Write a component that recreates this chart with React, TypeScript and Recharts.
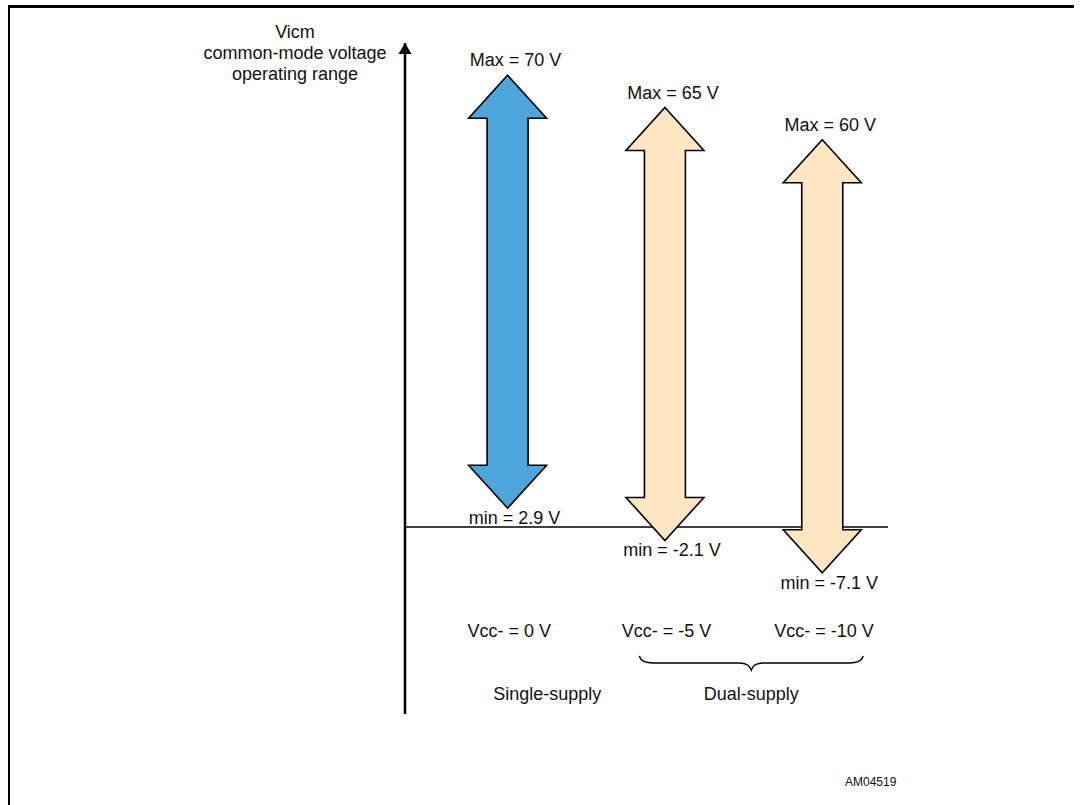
import { ComposedChart, Bar, XAxis, YAxis, CartesianGrid } from 'recharts';

// common-mode voltage range per supply configuration
const vccMinus = [0, -5, -10];
const maxVolts = [70, 65, 60];
const minVolts = [2.9, -2.1, -7.1];
const groundLevel = [0];

const groupNames = ['Single-supply', 'Dual-supply'];
const groupFrom = [1, 2];
const groupTo = [1, 3];

const Y_DOMAIN = [-29, 75];

const data = vccMinus.map((v, i) => ({
  pos: i + 1,
  vcc: v,
  max: maxVolts[i],
  min: minVolts[i],
  range: [minVolts[i], maxVolts[i]],
}));

const FONT = '"Liberation Sans", Arial, Helvetica, sans-serif';
const FILLS = ['#4ca6dc', '#fde6c1', '#fde6c1'];
const PLOT_BOTTOM = 714;

const Arrow = (props: any) => {
  const { x, y, width, height, payload } = props;
  const top = Math.min(y, y + height);
  const h = Math.abs(height);
  const bottom = top + h;
  const cx = x + width / 2;
  const head = 43;
  const half = 20.5;
  const pts = [
    [cx, top],
    [x + width, top + head],
    [cx + half, top + head],
    [cx + half, bottom - head],
    [x + width, bottom - head],
    [cx, bottom],
    [x, bottom - head],
    [cx - half, bottom - head],
    [cx - half, top + head],
    [x, top + head],
  ].map(p => p.join(',')).join(' ');
  return (
    <g>
      <polygon points={pts} fill={FILLS[payload.pos - 1]} stroke="#000" strokeWidth={1.6} />
      <text x={cx + 8} y={top - 9} textAnchor="middle" fontFamily={FONT} fontSize={18} fill="#111">
        {`Max = ${payload.max} V`}
      </text>
      <text x={cx + 7} y={bottom + 16} textAnchor="middle" fontFamily={FONT} fontSize={18} fill="#111">
        {`min = ${payload.min} V`}
      </text>
    </g>
  );
};

const AxisTitle = (props: any) => {
  const { viewBox } = props;
  const ax = viewBox.x + viewBox.width;
  const top = viewBox.y;
  const tx = ax - 110;
  return (
    <g>
      <polygon points={`${ax},${top} ${ax - 6.5},${top + 11} ${ax + 6.5},${top + 11}`} fill="#000" />
      <text textAnchor="middle" fontFamily={FONT} fontSize={18} fill="#111">
        <tspan x={tx} y={top - 5}>Vicm</tspan>
        <tspan x={tx} y={top + 16}>common-mode voltage</tspan>
        <tspan x={tx} y={top + 37}>operating range</tspan>
      </text>
    </g>
  );
};

const SupplyTick = (props: any) => {
  const { x, payload } = props;
  const v = vccMinus[payload.value - 1];
  return (
    <text x={x + 2} y={PLOT_BOTTOM - 77} textAnchor="middle" fontFamily={FONT} fontSize={18} fill="#111">
      {`Vcc- = ${v} V`}
    </text>
  );
};

const GroupTick = (props: any) => {
  const { x, payload } = props;
  const i = groupFrom.findIndex((f, k) => (f + groupTo[k]) / 2 === payload.value);
  if (i < 0) return null;
  const multi = groupTo[i] > groupFrom[i];
  const cx = multi ? x + 8 : x + 40;
  const hw = 112;
  const b = PLOT_BOTTOM - 58;
  return (
    <g>
      {multi && (
        <path
          d={`M${cx - hw},${b} Q${cx - hw + 2},${b + 7} ${cx - hw + 14},${b + 7} L${cx - 12},${b + 7} Q${cx - 2},${b + 7} ${cx},${b + 14} Q${cx + 2},${b + 7} ${cx + 12},${b + 7} L${cx + hw - 14},${b + 7} Q${cx + hw - 2},${b + 7} ${cx + hw},${b}`}
          fill="none"
          stroke="#000"
          strokeWidth={1.4}
        />
      )}
      <text x={cx} y={PLOT_BOTTOM - 14} textAnchor="middle" fontFamily={FONT} fontSize={18} fill="#111">
        {groupNames[i]}
      </text>
    </g>
  );
};

// grid line for 0 V; falls back to the plot offset if the axis scale isn't handed over
const groundCoords = (p: any) => {
  const sc = p?.yAxis?.scale;
  if (typeof sc === 'function') return groundLevel.map(v => sc(v));
  const off = p?.offset;
  if (!off) return [];
  return groundLevel.map(v => off.top + (off.height * (Y_DOMAIN[1] - v)) / (Y_DOMAIN[1] - Y_DOMAIN[0]));
};

export default function App() {
  return (
    <div style={{ position: 'absolute', left: 0, top: 0, width: 1084, height: 805, background: '#fff' }}>
      <div style={{ position: 'absolute', left: 8, top: 5, width: 1066, height: 2.5, background: '#000' }} />
      <div style={{ position: 'absolute', left: 7.5, top: 5, width: 2.5, height: 800, background: '#000' }} />
      <div
        style={{
          position: 'absolute',
          left: 845,
          top: 775,
          fontFamily: FONT,
          fontSize: 12,
          color: '#111',
        }}
      >
        AM04519
      </div>
      <div style={{ position: 'absolute', left: 0, top: 0 }}>
        <ComposedChart
          width={1084}
          height={805}
          data={data}
          margin={{ top: 43, right: 196, bottom: 805 - PLOT_BOTTOM - 2, left: 0 }}
        >
          <CartesianGrid
            vertical={false}
            horizontalCoordinatesGenerator={groundCoords}
            stroke="#000"
            strokeWidth={1.5}
            strokeOpacity={1}
          />
          <XAxis
            dataKey="pos"
            type="number"
            domain={[0.35, 3.42]}
            ticks={[1, 2, 3]}
            height={1}
            axisLine={false}
            tickLine={false}
            interval={0}
            tick={(p: any) => <SupplyTick {...p} />}
            allowDataOverflow
          />
          <XAxis
            xAxisId="grp"
            dataKey="pos"
            type="number"
            domain={[0.35, 3.42]}
            ticks={groupFrom.map((f, k) => (f + groupTo[k]) / 2)}
            height={1}
            axisLine={false}
            tickLine={false}
            interval={0}
            tick={(p: any) => <GroupTick {...p} />}
            allowDataOverflow
          />
          <YAxis
            type="number"
            domain={Y_DOMAIN}
            width={405}
            tick={false}
            tickLine={false}
            axisLine={{ stroke: '#000', strokeWidth: 2.5 }}
            label={(p: any) => <AxisTitle {...p} />}
            allowDataOverflow
          />
          <Bar dataKey="range" barSize={78} shape={(p: any) => <Arrow {...p} />} isAnimationActive={false} />
        </ComposedChart>
      </div>
    </div>
  );
}
